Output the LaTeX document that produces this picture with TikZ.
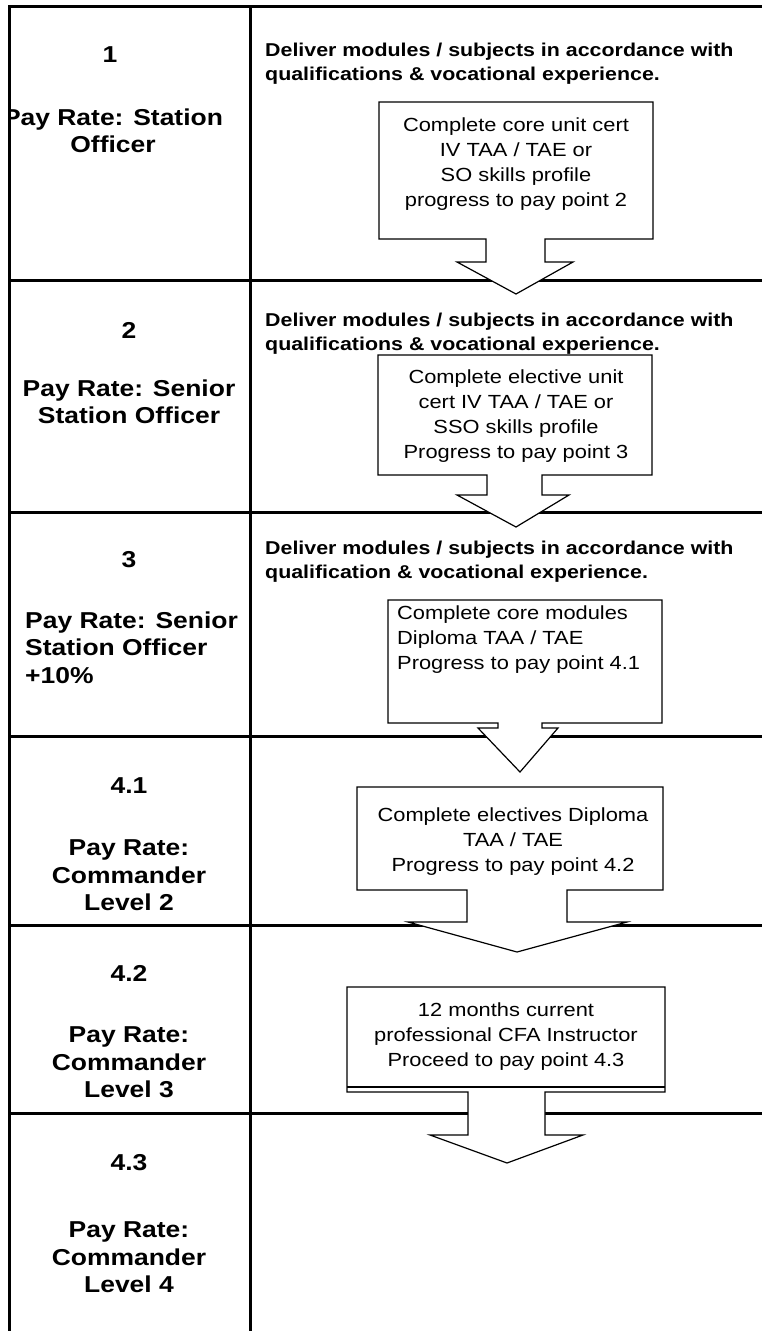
\documentclass[tikz,border=0pt]{standalone}
\usepackage{fontspec}
\setmainfont{Liberation Sans}[FakeStretch=1.15]
\usetikzlibrary{positioning}

\begin{document}
\begin{tikzpicture}[x=1pt, y=-1pt,
  tableline/.style={line width=3pt},
  callout/.style={draw, fill=white, line width=1.2pt},
  rownum/.style={font=\bfseries\fontsize{23}{27.5}\selectfont, inner sep=0pt},
  rowrate/.style={font=\bfseries\fontsize{23}{27.5}\selectfont, align=center, inner sep=0pt},
  deliver/.style={font=\bfseries\fontsize{18.6}{24}\selectfont, align=left, anchor=west, inner sep=0pt},
  boxtext/.style={font=\fontsize{19}{25}\selectfont, align=center, inner sep=0pt}]
\useasboundingbox (0,0) rectangle (762,1331);

% table
\draw[tableline] (9,1331) -- (9,6) -- (762,6);
\draw[tableline] (250,6) -- (250,1331);
\foreach \y in {280,512,736,925,1113}
  \draw[tableline] (9,\y) -- (762,\y);

% arrow callouts
\draw[callout] (379,102) -- (653,102) -- (653,239) -- (545,239) -- (545,262) -- (573,262)
  -- (516,294) -- (457,262) -- (486,262) -- (486,239) -- (379,239) -- cycle;
\draw[callout] (378,355) -- (652,355) -- (652,475) -- (542,475) -- (542,495) -- (569,495)
  -- (516,527) -- (457,495) -- (487,495) -- (487,475) -- (378,475) -- cycle;
\draw[callout] (388,600) -- (662,600) -- (662,723) -- (542,723) -- (542,728) -- (558,728)
  -- (520,772) -- (478,728) -- (498,728) -- (498,723) -- (388,723) -- cycle;
\draw[callout] (357,787) -- (663,787) -- (663,890) -- (567,890) -- (567,922) -- (627,922)
  -- (517,952) -- (408,922) -- (467,922) -- (467,890) -- (357,890) -- cycle;
\draw[callout] (347,987) -- (665,987) -- (665,1092) -- (545,1092) -- (545,1135) -- (583,1135)
  -- (507,1163) -- (430,1135) -- (468,1135) -- (468,1092) -- (347,1092) -- cycle;
\draw[line width=1.2pt] (347,1087) -- (665,1087);

% left column
\node[rownum] (num1) at (110,55) {1};
\begin{scope}
  \clip (10.5,7.5) rectangle (248.5,278.5);
  \node[rowrate] (rate1) at (113,130.7) {Pay Rate: Station\\Officer};
\end{scope}
\node[rownum] (num2) at (129,330) {2};
\node[rowrate] (rate2) at (129,401.7) {Pay Rate: Senior\\Station Officer};
\node[rownum] (num3) at (129,560) {3};
\node[rowrate, align=left, anchor=west] (rate3) at (25,647.4) {Pay Rate: Senior\\Station Officer\\+10\%};
\node[rownum] (num41) at (129,786) {4.1};
\node[rowrate] (rate41) at (129,875.4) {Pay Rate:\\Commander\\Level 2};
\node[rownum] (num42) at (129,973) {4.2};
\node[rowrate] (rate42) at (129,1062.4) {Pay Rate:\\Commander\\Level 3};
\node[rownum] (num43) at (129,1163) {4.3};
\node[rowrate] (rate43) at (129,1257.4) {Pay Rate:\\Commander\\Level 4};

% right column
\node[deliver] (deliver1) at (265,63.9) {Deliver modules / subjects in accordance with\\qualifications \& vocational experience.};
\node[deliver] (deliver2) at (265,333.5) {Deliver modules / subjects in accordance with\\qualifications \& vocational experience.};
\node[deliver] (deliver3) at (265,561.9) {Deliver modules / subjects in accordance with\\qualification \& vocational experience.};

\node[boxtext] (task1) at (516,164.3) {Complete core unit cert\\IV TAA / TAE or\\SO skills profile\\progress to pay point 2};
\node[boxtext] (task2) at (516,416.3) {Complete elective unit\\cert IV TAA / TAE or\\SSO skills profile\\Progress to pay point 3};
\node[boxtext, align=left, anchor=west] (task3) at (397,639.9) {Complete core modules\\Diploma TAA / TAE\\Progress to pay point 4.1};
\node[boxtext] (task41) at (513,841.9) {Complete electives Diploma\\TAA / TAE\\Progress to pay point 4.2};
\node[boxtext] (task42) at (506,1036.9) {12 months current\\professional CFA Instructor\\Proceed to pay point 4.3};
\end{tikzpicture}
\end{document}
